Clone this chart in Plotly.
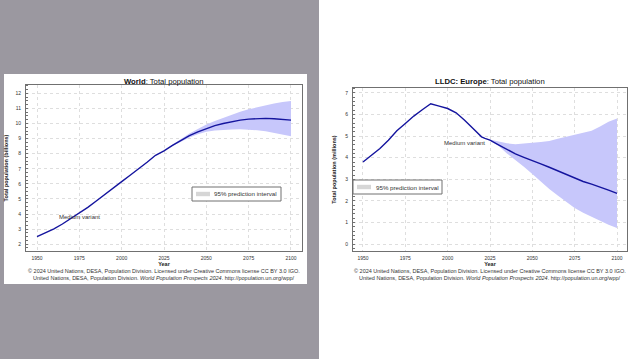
import plotly.graph_objects as go

W, H = 638, 359

# ---------------- data ----------------
world_years = [1950, 1955, 1960, 1965, 1970, 1975, 1980, 1985, 1990, 1995, 2000, 2005, 2010,
               2015, 2020, 2025, 2030, 2035, 2040, 2045, 2050, 2055, 2060, 2065, 2070, 2075,
               2080, 2085, 2090, 2095, 2100]
world_median = [2.50, 2.75, 3.02, 3.34, 3.69, 4.06, 4.44, 4.86, 5.31, 5.74, 6.15, 6.57, 6.99,
                7.43, 7.89, 8.19, 8.55, 8.88, 9.19, 9.45, 9.67, 9.86, 10.00, 10.13, 10.22, 10.29,
                10.32, 10.34, 10.31, 10.27, 10.22]
world_pi_years = [2024, 2030, 2035, 2040, 2045, 2050, 2055, 2060, 2065, 2070, 2075, 2080, 2085,
                  2090, 2095, 2100]
world_lower = [8.16, 8.52, 8.82, 9.07, 9.28, 9.45, 9.53, 9.58, 9.60, 9.61, 9.60, 9.55, 9.48,
               9.38, 9.27, 9.15]
world_upper = [8.16, 8.62, 8.97, 9.33, 9.64, 9.93, 10.16, 10.38, 10.58, 10.77, 10.94, 11.08,
               11.20, 11.32, 11.42, 11.49]

eu_years = [1950, 1955, 1960, 1965, 1970, 1975, 1980, 1985, 1990, 1995, 2000, 2005, 2010,
            2015, 2020, 2022, 2025, 2030, 2035, 2040, 2045, 2050, 2055, 2060, 2065, 2070,
            2075, 2080, 2085, 2090, 2095, 2100]
eu_median = [3.80, 4.12, 4.43, 4.81, 5.25, 5.59, 5.93, 6.22, 6.50, 6.39, 6.28, 6.08, 5.74,
             5.35, 4.97, 4.90, 4.82, 4.60, 4.38, 4.18, 4.02, 3.88, 3.72, 3.56, 3.40, 3.22,
             3.05, 2.90, 2.78, 2.65, 2.50, 2.35]
eu_pi_years = [2024, 2030, 2035, 2040, 2045, 2050, 2055, 2060, 2065, 2070, 2075, 2080, 2085,
               2090, 2095, 2100]
eu_lower = [4.85, 4.55, 4.20, 3.90, 3.58, 3.25, 2.90, 2.55, 2.25, 1.95, 1.67, 1.45, 1.25,
            1.08, 0.90, 0.74]
eu_upper = [4.86, 4.75, 4.67, 4.63, 4.65, 4.69, 4.73, 4.78, 4.88, 4.97, 5.05, 5.13, 5.25,
            5.45, 5.67, 5.82]

x_ticks = [1950, 1975, 2000, 2025, 2050, 2075, 2100]
world_yticks = list(range(2, 13))
eu_yticks = list(range(0, 8))
legend_label = "95% prediction interval"

LINE = "#14149e"
BAND = "#c7c7fb"
FONT = "Liberation Sans, Arial, sans-serif"
TXT = "#333333"


def px(x):
    return x / W


def py(y):
    return 1 - y / H


fig = go.Figure()


def add_chart(xs, med, pyears, lo, hi, xa, ya):
    fig.add_trace(go.Scatter(x=pyears, y=lo, mode="lines", line=dict(width=0, color=BAND),
                             showlegend=False, hoverinfo="skip", xaxis=xa, yaxis=ya))
    fig.add_trace(go.Scatter(x=pyears, y=hi, mode="lines", line=dict(width=0, color=BAND),
                             fill="tonexty", fillcolor=BAND, showlegend=False,
                             name=legend_label, hoverinfo="skip", xaxis=xa, yaxis=ya))
    fig.add_trace(go.Scatter(x=xs, y=med, mode="lines", line=dict(width=1.4, color=LINE),
                             showlegend=False, name="Medium variant", xaxis=xa, yaxis=ya))


add_chart(world_years, world_median, world_pi_years, world_lower, world_upper, "x", "y")
add_chart(eu_years, eu_median, eu_pi_years, eu_lower, eu_upper, "x2", "y2")

axis_common = dict(
    showline=True, mirror=True, linecolor="#707070", linewidth=1,
    showgrid=True, gridcolor="#dedede", griddash="dot", gridwidth=1,
    zeroline=False, ticks="", tickfont=dict(size=5, color=TXT, family=FONT),
)
title_font = dict(size=5.5, color="#222", family=FONT)

fig.update_layout(
    width=W, height=H,
    margin=dict(l=0, r=0, t=0, b=0),
    paper_bgcolor="white", plot_bgcolor="white",
    font=dict(family=FONT, color=TXT),
    showlegend=False,
    xaxis=dict(domain=[px(26), px(302)], range=[1943.5, 2106.5], tickvals=x_ticks,
               anchor="y", title=dict(text="<b>Year</b>", font=title_font, standoff=1),
               ticklabelstandoff=2, **axis_common),
    yaxis=dict(domain=[py(251), py(85)], range=[1.55, 12.55], tickvals=world_yticks, anchor="x",
               title=dict(text="<b>Total population (billions)</b>", font=title_font, standoff=6),
               minor=dict(ticks="inside", ticklen=2, tickcolor="#707070", dtick=0.25, showgrid=False),
               ticklabelstandoff=3, **axis_common),
    xaxis2=dict(domain=[px(353), px(627)], range=[1944.1, 2105.9], tickvals=x_ticks,
                anchor="y2", title=dict(text="<b>Year</b>", font=title_font, standoff=1),
                ticklabelstandoff=2, **axis_common),
    yaxis2=dict(domain=[py(251), py(88)], range=[-0.32, 7.23], tickvals=eu_yticks, anchor="x2",
                title=dict(text="<b>Total population (millions)</b>", font=title_font, standoff=8),
                minor=dict(ticks="inside", ticklen=2, tickcolor="#707070", dtick=0.2, showgrid=False),
                ticklabelstandoff=3, **axis_common),
)

shapes = [
    dict(type="rect", xref="paper", yref="paper", x0=0, x1=0.5, y0=0, y1=1,
         fillcolor="#9b98a0", line=dict(width=0), layer="below"),
    dict(type="rect", xref="paper", yref="paper", x0=px(4), x1=px(307), y0=py(284), y1=py(74),
         fillcolor="white", line=dict(width=0), layer="below"),
]
ann = []

# legend boxes (box, swatch, label)
for (bx0, bx1, by0, by1, sx0, sx1, tx) in [(192, 281, 187, 201, 196, 210, 212),
                                          (353, 442, 180, 194, 357, 371, 374)]:
    shapes.append(dict(type="rect", xref="paper", yref="paper", x0=px(bx0), x1=px(bx1),
                       y0=py(by1), y1=py(by0), fillcolor="white",
                       line=dict(width=1, color="#707070"), layer="above"))
    cy = (by0 + by1) / 2
    shapes.append(dict(type="rect", xref="paper", yref="paper", x0=px(sx0), x1=px(sx1),
                       y0=py(cy + 2.2), y1=py(cy - 2.2), fillcolor="#d6d6d6",
                       line=dict(width=0), layer="above"))
    ann.append(dict(text=legend_label, x=px(tx), y=py(cy), xref="paper", yref="paper",
                    xanchor="left", yanchor="middle", showarrow=False,
                    font=dict(size=6.2, color=TXT, family=FONT)))

ann.append(dict(text="<b>World</b>: Total population", x=px(164), y=py(81), xref="paper", yref="paper",
                xanchor="center", yanchor="middle", showarrow=False,
                font=dict(size=7.7, color="#111", family=FONT)))
ann.append(dict(text="<b>LLDC: Europe</b>: Total population", x=px(490), y=py(81), xref="paper", yref="paper",
                xanchor="center", yanchor="middle", showarrow=False,
                font=dict(size=7.7, color="#111", family=FONT)))
ann.append(dict(text="Medium variant", x=1975, y=3.8, xref="x", yref="y", showarrow=False,
                xanchor="center", font=dict(size=6, color=TXT, family=FONT)))
ann.append(dict(text="Medium variant", x=2010, y=4.68, xref="x2", yref="y2", showarrow=False,
                xanchor="center", font=dict(size=6, color=TXT, family=FONT)))
foot1 = "© 2024 United Nations, DESA, Population Division. Licensed under Creative Commons license CC BY 3.0 IGO."
foot2 = "United Nations, DESA, Population Division. <i>World Population Prospects 2024</i>. http://population.un.org/wpp/"
for cx in (164, 490):
    ann.append(dict(text=foot1, x=px(cx), y=py(271), xref="paper", yref="paper", showarrow=False,
                    xanchor="center", yanchor="middle", font=dict(size=5.5, color=TXT, family=FONT)))
    ann.append(dict(text=foot2, x=px(cx), y=py(277.5), xref="paper", yref="paper", showarrow=False,
                    xanchor="center", yanchor="middle", font=dict(size=5.5, color=TXT, family=FONT)))

fig.update_layout(shapes=shapes, annotations=ann)

fig.write_html("out.html", config={"displayModeBar": False},
               post_script="document.body.style.margin='0px';")
